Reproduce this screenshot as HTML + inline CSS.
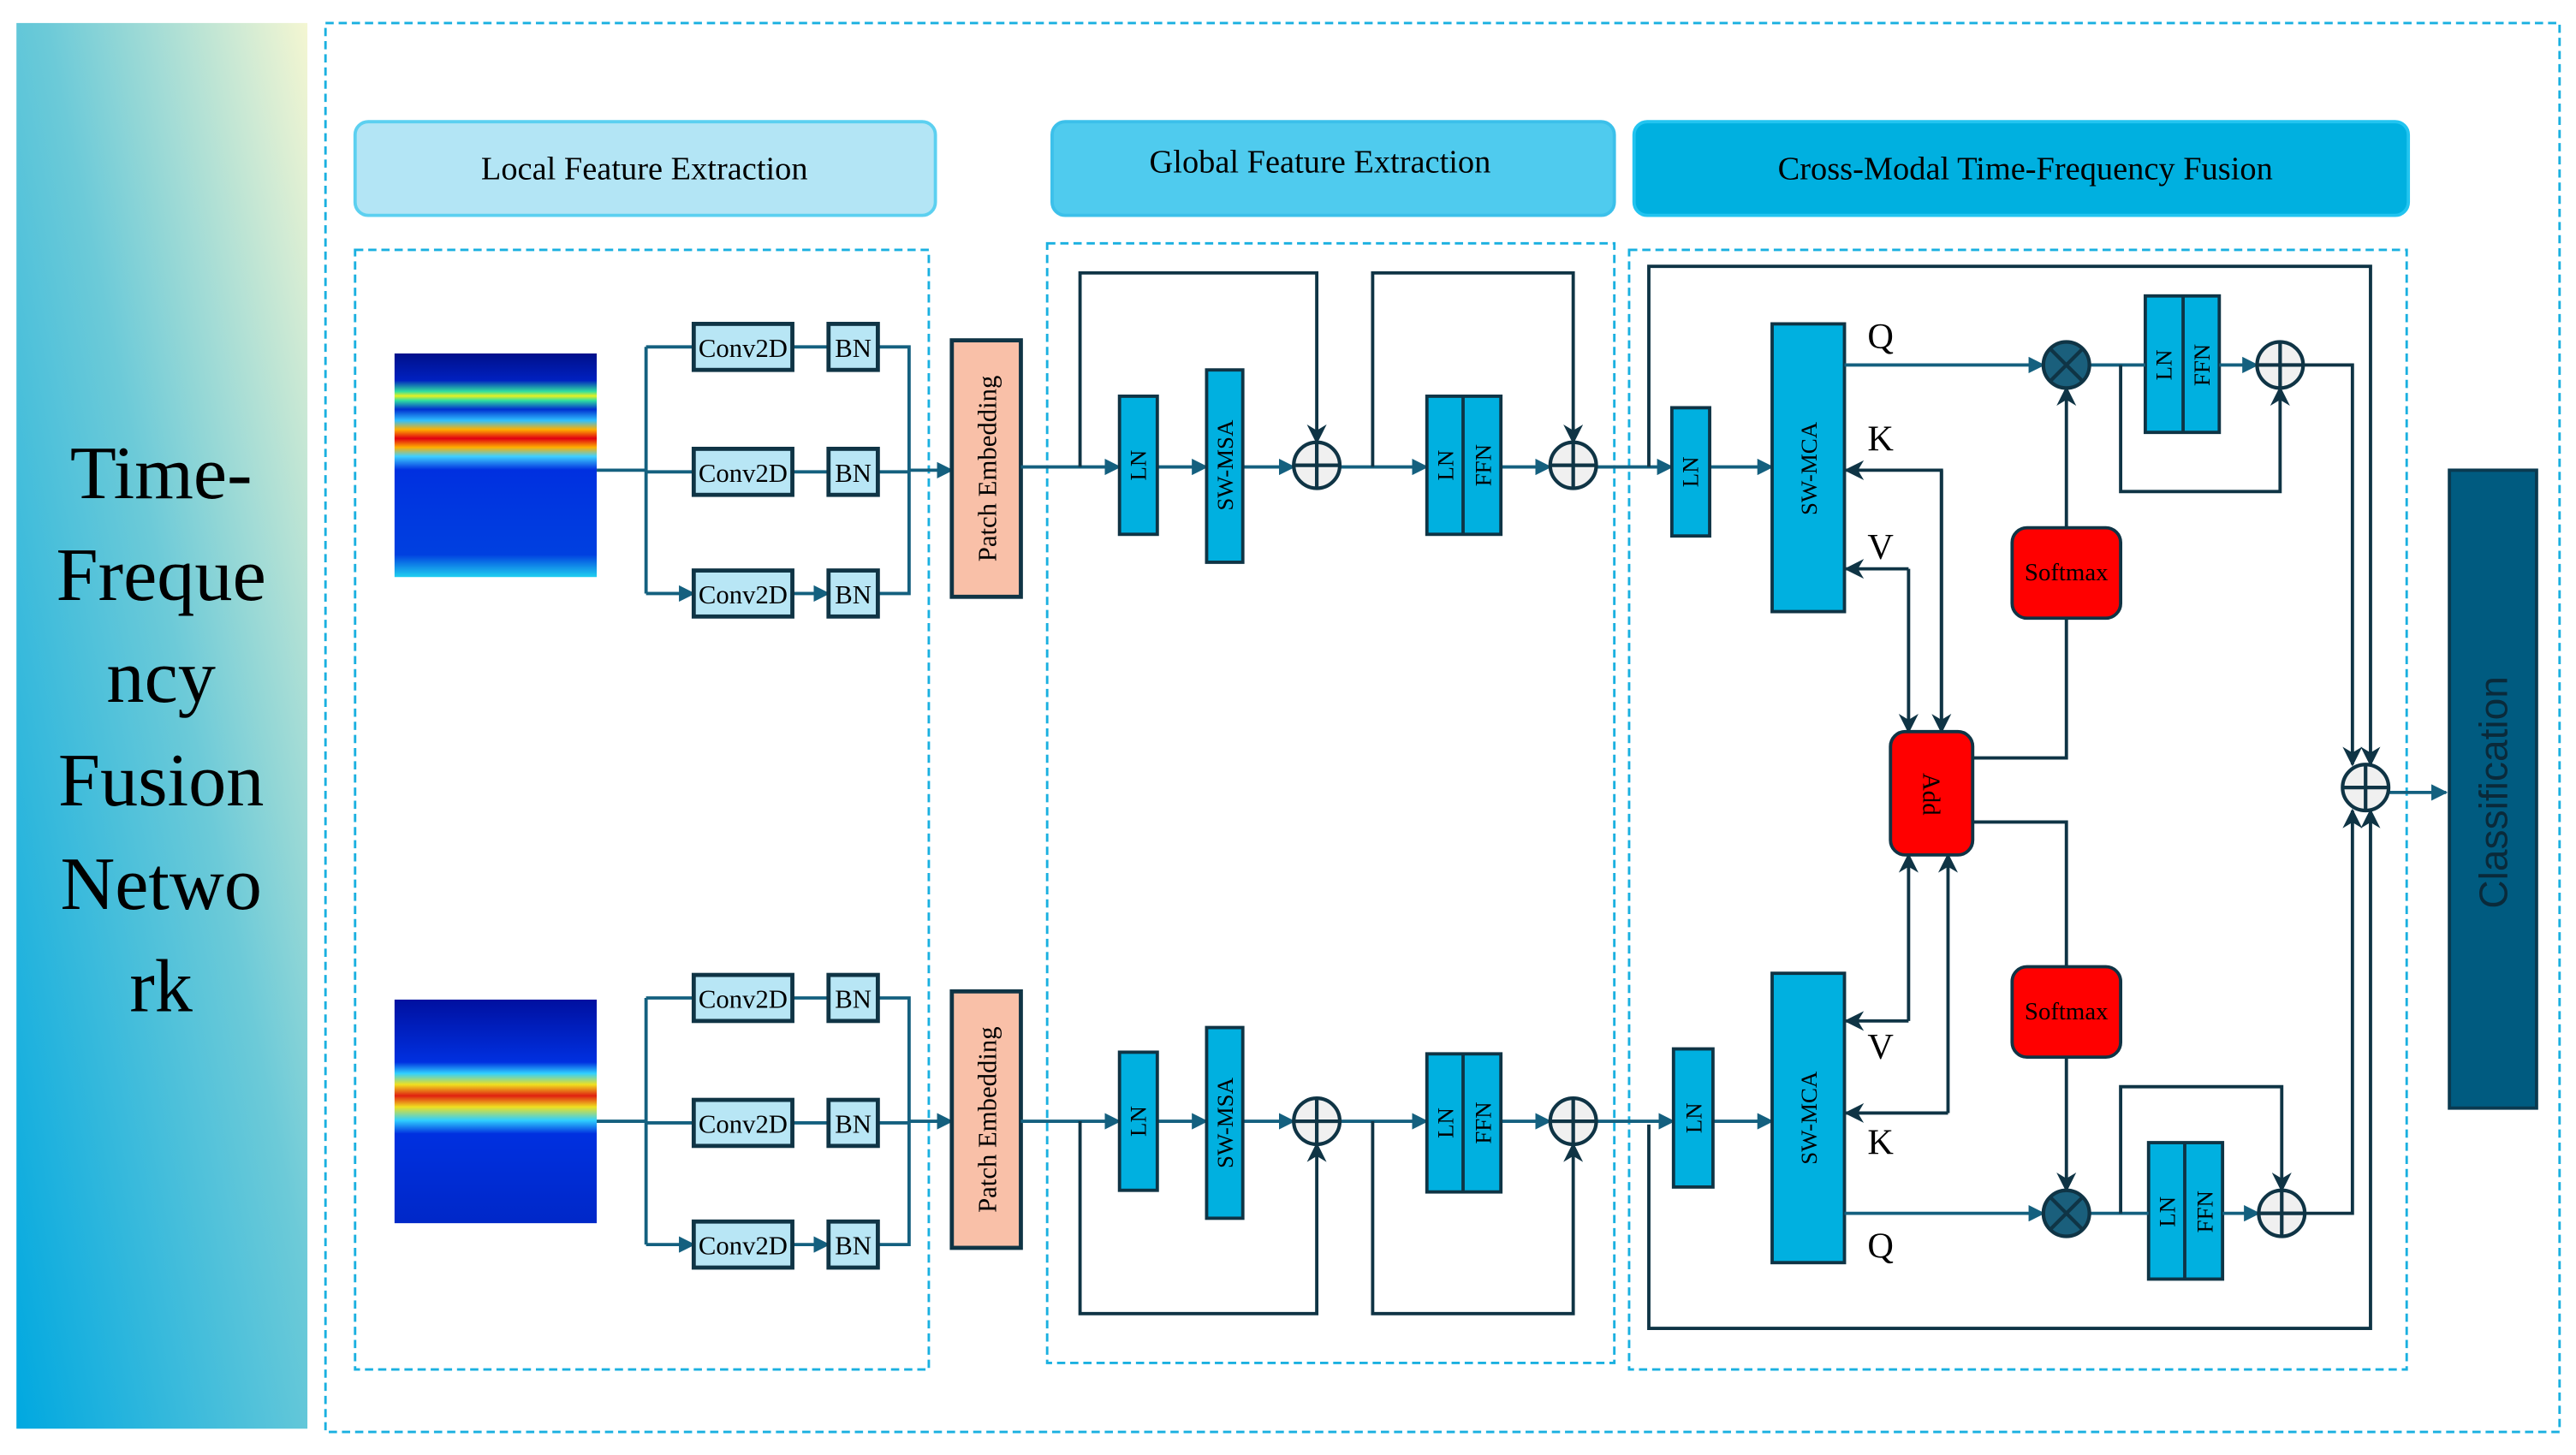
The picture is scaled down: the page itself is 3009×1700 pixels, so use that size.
<!DOCTYPE html>
<html><head><meta charset="utf-8"><style>
html,body{margin:0;padding:0;background:#fff;}
svg{display:block;}
text{font-family:"Liberation Serif",serif;}
</style></head><body>
<svg width="3009" height="1700" viewBox="0 0 1567 885" preserveAspectRatio="none" xmlns="http://www.w3.org/2000/svg">
<defs>
<linearGradient id="lg" x1="0" y1="1" x2="1" y2="0">
<stop offset="0" stop-color="#00a8e0"/><stop offset="0.55" stop-color="#6ccad8"/><stop offset="1" stop-color="#f4f6d2"/>
</linearGradient>
<linearGradient id="sp1" x1="0" y1="0" x2="0" y2="1">
<stop offset="0" stop-color="#00108a"/><stop offset="0.12" stop-color="#0020c0"/>
<stop offset="0.17" stop-color="#30e0a0"/><stop offset="0.19" stop-color="#e8f020"/><stop offset="0.21" stop-color="#30e0a0"/>
<stop offset="0.25" stop-color="#0030d0"/><stop offset="0.30" stop-color="#30c0ff"/>
<stop offset="0.34" stop-color="#ffb000"/><stop offset="0.38" stop-color="#e00010"/><stop offset="0.42" stop-color="#ffb000"/>
<stop offset="0.46" stop-color="#40d0ff"/><stop offset="0.52" stop-color="#0030e0"/><stop offset="0.9" stop-color="#0040e0"/><stop offset="1" stop-color="#20d0f0"/>
</linearGradient>
<linearGradient id="sp2" x1="0" y1="0" x2="0" y2="1">
<stop offset="0" stop-color="#0010a0"/><stop offset="0.28" stop-color="#0030e0"/><stop offset="0.33" stop-color="#30d0ff"/>
<stop offset="0.38" stop-color="#f0e020"/><stop offset="0.43" stop-color="#e02010"/><stop offset="0.48" stop-color="#f0e020"/>
<stop offset="0.54" stop-color="#30d0ff"/><stop offset="0.6" stop-color="#0030e0"/><stop offset="1" stop-color="#0028c8"/>
</linearGradient>
<marker id="a" viewBox="0 0 10 10" refX="9" refY="5" markerWidth="5" markerHeight="5" orient="auto"><path d="M0,0L10,5L0,10z" fill="#14607f"/></marker>
<marker id="b" viewBox="0 0 10 10" refX="9" refY="5" markerWidth="6" markerHeight="6" orient="auto"><path d="M0,0L10,5L0,10L3,5z" fill="#0f3445"/></marker>
</defs>

<!-- left panel -->
<rect x="10" y="14" width="177" height="855" fill="url(#lg)"/>
<g font-size="46" text-anchor="middle" fill="#000">
<text x="98" y="303">Time-</text><text x="98" y="365">Freque</text><text x="98" y="427">ncy</text>
<text x="98" y="490">Fusion</text><text x="98" y="553">Netwo</text><text x="98" y="615">rk</text>
</g>

<!-- outer dashed -->
<rect x="198" y="14" width="1359" height="857" fill="none" stroke="#1ab0e0" stroke-width="1.5" stroke-dasharray="5,3"/>

<!-- headers -->
<rect x="216" y="74" width="353" height="57" rx="8" fill="#b3e5f5" stroke="#5cd0f0" stroke-width="2"/>
<text x="392" y="109" font-size="20" text-anchor="middle">Local Feature Extraction</text>
<rect x="640" y="74" width="342" height="57" rx="8" fill="#4fcbee" stroke="#3cc0ea" stroke-width="2"/>
<text x="803" y="105" font-size="20" text-anchor="middle">Global Feature Extraction</text>
<rect x="994" y="74" width="471" height="57" rx="8" fill="#00b0e0" stroke="#22c4f0" stroke-width="2"/>
<text x="1232" y="109" font-size="20" text-anchor="middle">Cross-Modal Time-Frequency Fusion</text>

<!-- dashed sections -->
<g fill="none" stroke="#1ab0e0" stroke-width="1.5" stroke-dasharray="5,3">
<rect x="216" y="152" width="349" height="681"/>
<rect x="637" y="148" width="345" height="681"/>
<rect x="991" y="152" width="473" height="681"/>
</g>

<!-- spectrograms -->
<rect x="240" y="215" width="123" height="136" fill="url(#sp1)"/>
<rect x="240" y="608" width="123" height="136" fill="url(#sp2)"/>

<!-- local branches -->
<g stroke="#14607f" stroke-width="2" fill="none">
<path d="M363 286H393M393 211V361"/>
<path d="M393 211H422M393 287H422M393 361H422" marker-end="url(#a)"/>
<path d="M482 211H504M482 287H504M482 361H504" marker-end="url(#a)"/>
<path d="M534 211H553V361H534M534 287H553"/>
<path d="M553 286H579" marker-end="url(#a)"/>
<path d="M363 682H393M393 607V757"/>
<path d="M393 607H422M393 683H422M393 757H422" marker-end="url(#a)"/>
<path d="M482 607H504M482 683H504M482 757H504" marker-end="url(#a)"/>
<path d="M534 607H553V757H534M534 683H553"/>
<path d="M553 682H579" marker-end="url(#a)"/>
</g>
<g fill="#b8e6f5" stroke="#0f3445" stroke-width="2.5">
<rect x="422" y="197" width="60" height="28"/><rect x="504" y="197" width="30" height="28"/>
<rect x="422" y="273" width="60" height="28"/><rect x="504" y="273" width="30" height="28"/>
<rect x="422" y="347" width="60" height="28"/><rect x="504" y="347" width="30" height="28"/>
<rect x="422" y="593" width="60" height="28"/><rect x="504" y="593" width="30" height="28"/>
<rect x="422" y="669" width="60" height="28"/><rect x="504" y="669" width="30" height="28"/>
<rect x="422" y="743" width="60" height="28"/><rect x="504" y="743" width="30" height="28"/>
</g>
<g font-size="16" text-anchor="middle">
<text x="452" y="217">Conv2D</text><text x="519" y="217">BN</text>
<text x="452" y="293">Conv2D</text><text x="519" y="293">BN</text>
<text x="452" y="367">Conv2D</text><text x="519" y="367">BN</text>
<text x="452" y="613">Conv2D</text><text x="519" y="613">BN</text>
<text x="452" y="689">Conv2D</text><text x="519" y="689">BN</text>
<text x="452" y="763">Conv2D</text><text x="519" y="763">BN</text>
</g>
<rect x="579" y="207" width="42" height="156" fill="#f9c0a8" stroke="#0f3445" stroke-width="2.5"/>
<rect x="579" y="603" width="42" height="156" fill="#f9c0a8" stroke="#0f3445" stroke-width="2.5"/>
<text transform="translate(606 285) rotate(-90)" font-size="16" text-anchor="middle">Patch Embedding</text>
<text transform="translate(606 681) rotate(-90)" font-size="16" text-anchor="middle">Patch Embedding</text>

<!-- global -->
<g stroke="#14607f" stroke-width="2" fill="none">
<path d="M621 284H681" marker-end="url(#a)"/><path d="M704 284H734" marker-end="url(#a)"/><path d="M756 284H787" marker-end="url(#a)"/>
<path d="M815 284H868" marker-end="url(#a)"/><path d="M913 284H943" marker-end="url(#a)"/>
<path d="M621 682H681" marker-end="url(#a)"/><path d="M704 682H734" marker-end="url(#a)"/><path d="M756 682H787" marker-end="url(#a)"/>
<path d="M815 682H868" marker-end="url(#a)"/><path d="M913 682H943" marker-end="url(#a)"/>
<path d="M971 284H1017" marker-end="url(#a)"/><path d="M1040 284H1078" marker-end="url(#a)"/>
<path d="M971 682H1018" marker-end="url(#a)"/><path d="M1042 682H1078" marker-end="url(#a)"/>
</g>
<g stroke="#0f3445" stroke-width="2" fill="none">
<path d="M657 284V166H801V269" marker-end="url(#b)"/>
<path d="M835 284V166H957V269" marker-end="url(#b)"/>
<path d="M657 682V799H801V696" marker-end="url(#b)"/>
<path d="M835 682V799H957V696" marker-end="url(#b)"/>
</g>
<g fill="#00b0e0" stroke="#0f3445" stroke-width="2">
<rect x="681" y="241" width="23" height="84"/><rect x="734" y="225" width="22" height="117"/>
<rect x="868" y="241" width="45" height="84"/><line x1="890" y1="241" x2="890" y2="325"/>
<rect x="681" y="640" width="23" height="84"/><rect x="734" y="625" width="22" height="116"/>
<rect x="868" y="641" width="45" height="84"/><line x1="890" y1="641" x2="890" y2="725"/>
<rect x="1017" y="248" width="23" height="78"/><rect x="1078" y="197" width="44" height="175"/>
<rect x="1018" y="638" width="24" height="84"/><rect x="1078" y="592" width="44" height="176"/>
<rect x="1305" y="180" width="45" height="83"/><line x1="1328" y1="180" x2="1328" y2="263"/>
<rect x="1307" y="695" width="45" height="83"/><line x1="1329" y1="695" x2="1329" y2="778"/>
</g>
<g font-size="14" text-anchor="middle">
<text transform="translate(697 283) rotate(-90)">LN</text>
<text transform="translate(750 283) rotate(-90)">SW-MSA</text>
<text transform="translate(884 283) rotate(-90)">LN</text><text transform="translate(907 283) rotate(-90)">FFN</text>
<text transform="translate(697 682) rotate(-90)">LN</text>
<text transform="translate(750 683) rotate(-90)">SW-MSA</text>
<text transform="translate(884 683) rotate(-90)">LN</text><text transform="translate(907 683) rotate(-90)">FFN</text>
<text transform="translate(1033 287) rotate(-90)">LN</text>
<text transform="translate(1035 680) rotate(-90)">LN</text>
<text transform="translate(1105 285) rotate(-90)">SW-MCA</text>
<text transform="translate(1105 680) rotate(-90)">SW-MCA</text>
<text transform="translate(1321 222) rotate(-90)">LN</text><text transform="translate(1344 222) rotate(-90)">FFN</text>
<text transform="translate(1323 737) rotate(-90)">LN</text><text transform="translate(1346 737) rotate(-90)">FFN</text>
</g>

<!-- cross-modal connectors -->
<g stroke="#14607f" stroke-width="2" fill="none">
<path d="M1122 222H1243" marker-end="url(#a)"/><path d="M1271 222H1305"/><path d="M1350 222H1373" marker-end="url(#a)"/>
<path d="M1122 738H1243" marker-end="url(#a)"/><path d="M1271 738H1307"/><path d="M1352 738H1374" marker-end="url(#a)"/>
<path d="M1453 482H1488" marker-end="url(#a)"/>
</g>
<g stroke="#0f3445" stroke-width="2" fill="none">
<path d="M1003 284V162H1442V465" marker-end="url(#b)"/>
<path d="M1003 684V808H1442V493" marker-end="url(#b)"/>
<path d="M1401 222H1431V465" marker-end="url(#b)"/>
<path d="M1402 738H1431V493" marker-end="url(#b)"/>
<path d="M1290 222V299H1387V236" marker-end="url(#b)"/>
<path d="M1290 738V661H1388V724" marker-end="url(#b)"/>
<path d="M1181 445V286H1123" marker-end="url(#b)"/>
<path d="M1181 286V445" marker-end="url(#b)"/>
<path d="M1161 346H1123" marker-end="url(#b)"/>
<path d="M1161 346V445" marker-end="url(#b)"/>
<path d="M1161 621H1123" marker-end="url(#b)"/>
<path d="M1161 621V520" marker-end="url(#b)"/>
<path d="M1185 677H1123" marker-end="url(#b)"/>
<path d="M1185 677V520" marker-end="url(#b)"/>
<path d="M1257 321V236" marker-end="url(#b)"/>
<path d="M1200 461H1257V376"/>
<path d="M1200 500H1257V588"/>
<path d="M1257 643V724" marker-end="url(#b)"/>
</g>
<g fill="#ff0000" stroke="#0f3445" stroke-width="2">
<rect x="1224" y="321" width="66" height="55" rx="9"/>
<rect x="1224" y="588" width="66" height="55" rx="9"/>
<rect x="1150" y="445" width="50" height="75" rx="9"/>
</g>
<text x="1257" y="353" font-size="15" text-anchor="middle">Softmax</text>
<text x="1257" y="620" font-size="15" text-anchor="middle">Softmax</text>
<text transform="translate(1170 483) rotate(90)" font-size="15" text-anchor="middle">Add</text>

<g font-size="22">
<text x="1136" y="212">Q</text><text x="1136" y="274">K</text><text x="1136" y="340">V</text>
<text x="1136" y="644">V</text><text x="1136" y="702">K</text><text x="1136" y="765">Q</text>
</g>

<!-- circles -->
<g stroke="#0f3445" stroke-width="2.2">
<g fill="#f0f0f0">
<circle cx="801" cy="283" r="14"/><circle cx="957" cy="283" r="14"/>
<circle cx="801" cy="682" r="14"/><circle cx="957" cy="682" r="14"/>
<circle cx="1387" cy="222" r="14"/><circle cx="1388" cy="738" r="14"/><circle cx="1439" cy="479" r="14"/>
</g>
<path d="M787 283H815M801 269V297M943 283H971M957 269V297M787 682H815M801 668V696M943 682H971M957 668V696M1373 222H1401M1387 208V236M1374 738H1402M1388 724V752M1425 479H1453M1439 465V493" fill="none"/>
<g fill="#1a5f7c">
<circle cx="1257" cy="222" r="14"/><circle cx="1257" cy="738" r="14"/>
</g>
<path d="M1247 212L1267 232M1267 212L1247 232M1247 728L1267 748M1267 728L1247 748" fill="none"/>
</g>

<!-- classification -->
<rect x="1490" y="286" width="53" height="388" fill="#005b80" stroke="#0a3a50" stroke-width="2"/>
<text transform="translate(1525 482) rotate(-90)" font-family="Liberation Sans, sans-serif" font-size="24" text-anchor="middle" fill="#0a2a3a" style="font-family:'Liberation Sans',sans-serif">Classification</text>
</svg>
</body></html>
